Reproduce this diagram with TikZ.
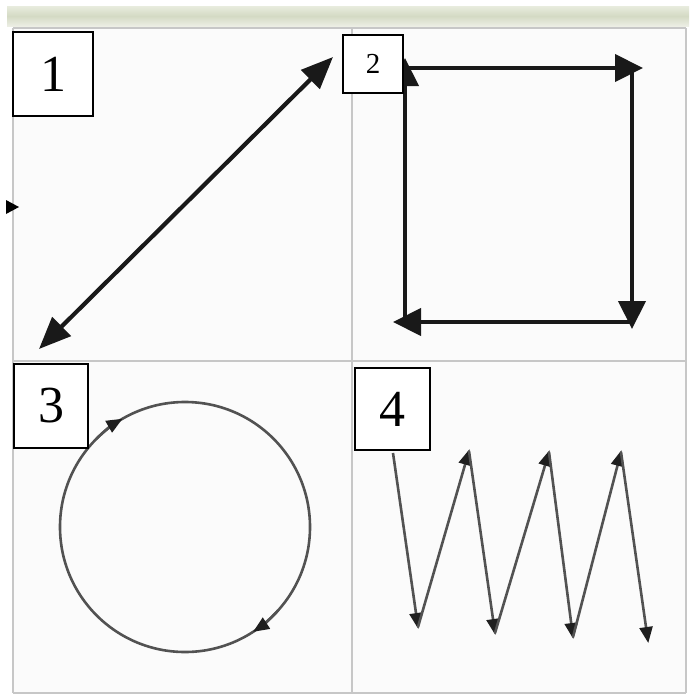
\documentclass[tikz,border=0pt]{standalone}
\usepackage{fontspec}
\setmainfont{Liberation Serif}
\usetikzlibrary{arrows.meta}
\begin{document}
\begin{tikzpicture}[x=1pt,y=1pt,yscale=-1,
  gridline/.style={draw=black!22, line width=2.2pt},
  numbox/.style={draw=black, fill=white, line width=1.4pt, inner sep=0pt, anchor=center},
  bigarrow/.style={draw=black!90, line width=4.2pt, -{Triangle[length=28pt,width=27pt]}},
  thintip/.style={-{Triangle[length=16pt,width=13pt,color=black!88]}},
  thinarrow/.style={draw=black!68, line width=2.6pt, thintip, shorten >=-2pt},
  diagarrow/.style={draw=black!90, line width=4.2pt, {Triangle[length=32pt,width=26pt]}-{Triangle[length=32pt,width=26pt]}}
]
\useasboundingbox (0,0) rectangle (689,697);
\fill[white] (0,0) rectangle (689,697);
% top band
\definecolor{bandmid}{RGB}{212,218,196}
\definecolor{bandtop}{RGB}{232,236,222}
\definecolor{bandbot}{RGB}{236,238,228}
\shade[top color=bandtop, bottom color=bandbot, middle color=bandmid] (7,6) rectangle (689,26);
\fill[black!1.5] (13,28) rectangle (686,693);
% grid
\draw[gridline] (13,28) -- (686,28);
\draw[gridline] (13,361) -- (686,361);
\draw[gridline] (13,693) -- (686,693);
\draw[gridline] (13,28) -- (13,693);
\draw[gridline] (352,28) -- (352,693);
\draw[gridline] (686,28) -- (686,693);
% stray arrow tip at left edge
\fill[black] (6,200) -- (19,207) -- (6,214) -- cycle;

% panel 1: diagonal double arrow
\coordinate (d1) at (39,349);
\coordinate (d2) at (333,57);
\draw[diagarrow] (d1) -- (d2);

% panel 2: square of arrows
\coordinate (tl) at (405,68);
\coordinate (tr) at (632,68);
\coordinate (br) at (632,322);
\coordinate (bl) at (405,322);
\coordinate (trx) at (643,68);
\coordinate (bry) at (632,329);
\coordinate (blx) at (393,322);
\coordinate (tly) at (405,58);
\draw[bigarrow] (tl) -- (trx);
\draw[bigarrow] (tr) -- (bry);
\draw[bigarrow] (br) -- (blx);
\draw[bigarrow] (bl) -- (tly);

% panel 3: circle
\coordinate (cc) at (185,527);
\draw[draw=black!68, line width=2.6pt] (cc) circle[radius=125pt];
\draw[draw=black!68, line width=2.6pt, thintip] (cc) ++(225:125pt) arc[start angle=225, end angle=240, radius=125pt];
\draw[draw=black!68, line width=2.6pt, thintip] (cc) ++(42:125pt) arc[start angle=42, end angle=57, radius=125pt];

% panel 4: zigzag
\coordinate (z0) at (393,453);
\coordinate (z1) at (418,627);
\coordinate (z2) at (469,451);
\coordinate (z3) at (495,633);
\coordinate (z4) at (549,452);
\coordinate (z5) at (573,637);
\coordinate (z6) at (621,452);
\coordinate (z7) at (648,641);
\draw[thinarrow] (z0) -- (z1);
\draw[thinarrow] (z1) -- (z2);
\draw[thinarrow] (z2) -- (z3);
\draw[thinarrow] (z3) -- (z4);
\draw[thinarrow] (z4) -- (z5);
\draw[thinarrow] (z5) -- (z6);
\draw[thinarrow] (z6) -- (z7);

% number boxes
\node[numbox, minimum width=80pt, minimum height=84pt, font=\fontsize{52}{52}\selectfont] (n1) at (53,74) {1};
\node[numbox, minimum width=60pt, minimum height=58pt, font=\fontsize{29}{29}\selectfont] (n2) at (373,64) {2};
\node[numbox, minimum width=74pt, minimum height=84pt, font=\fontsize{52}{52}\selectfont] (n3) at (51,406) {3};
\node[numbox, minimum width=75pt, minimum height=82pt, font=\fontsize{52}{52}\selectfont] (n4) at (392.5,409) {4};
\end{tikzpicture}
\end{document}
